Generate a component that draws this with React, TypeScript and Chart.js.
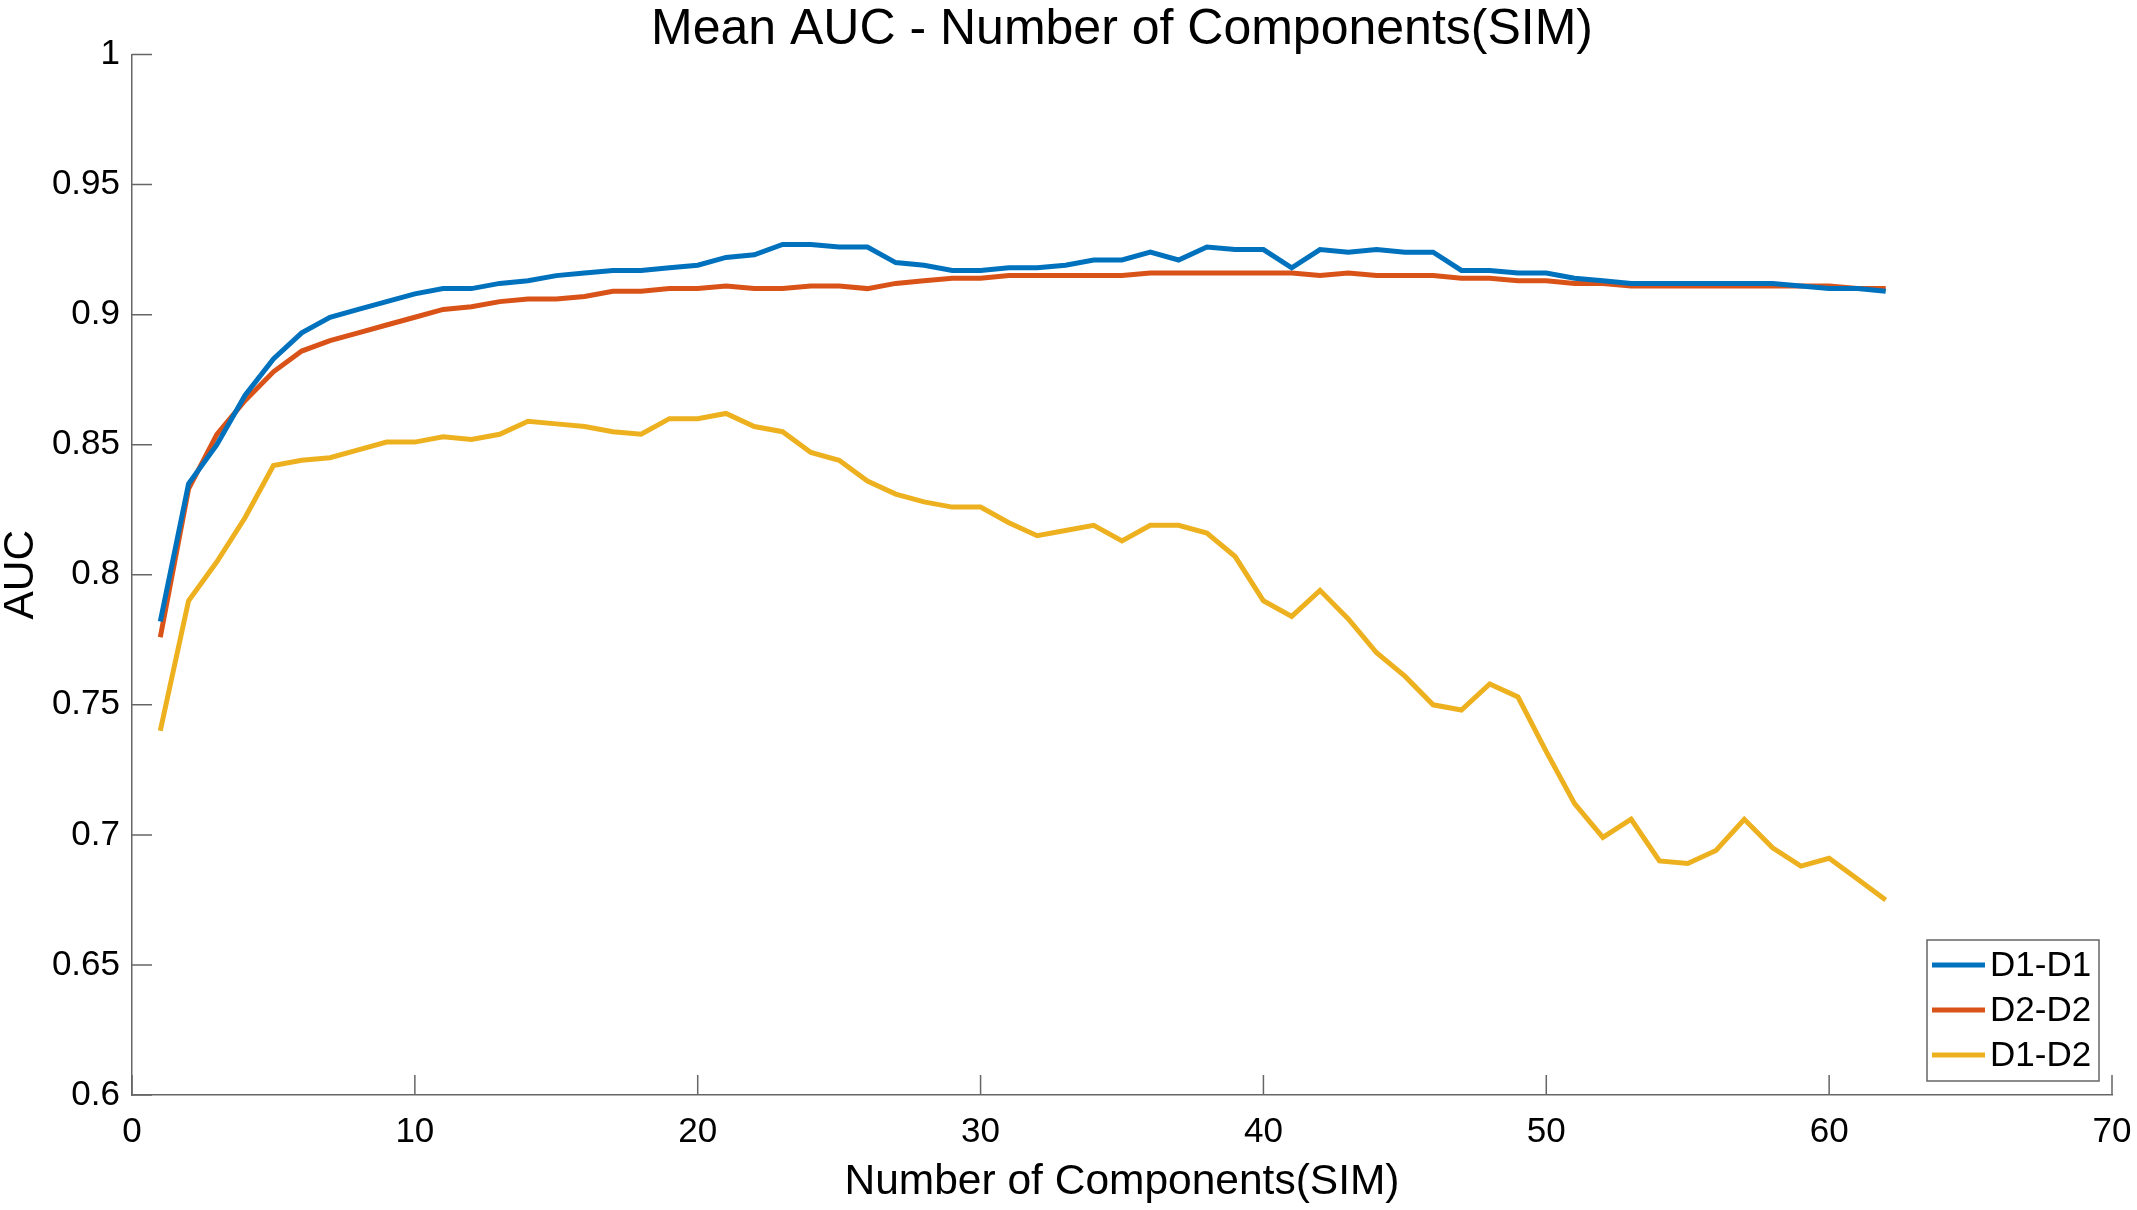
import { useEffect, useRef } from "react";
import { Chart, registerables } from "chart.js";

Chart.register(...registerables);

const components = [
  1, 2, 3, 4, 5, 6, 7, 8, 9, 10, 11, 12, 13, 14, 15, 16, 17, 18, 19, 20, 21,
  22, 23, 24, 25, 26, 27, 28, 29, 30, 31, 32, 33, 34, 35, 36, 37, 38, 39, 40,
  41, 42, 43, 44, 45, 46, 47, 48, 49, 50, 51, 52, 53, 54, 55, 56, 57, 58, 59,
  60, 61, 62,
];

const d1d1 = [
  0.782, 0.835, 0.85, 0.869, 0.883, 0.893, 0.899, 0.902, 0.905, 0.908, 0.91,
  0.91, 0.912, 0.913, 0.915, 0.916, 0.917, 0.917, 0.918, 0.919, 0.922, 0.923,
  0.927, 0.927, 0.926, 0.926, 0.92, 0.919, 0.917, 0.917, 0.918, 0.918, 0.919,
  0.921, 0.921, 0.924, 0.921, 0.926, 0.925, 0.925, 0.918, 0.925, 0.924, 0.925,
  0.924, 0.924, 0.917, 0.917, 0.916, 0.916, 0.914, 0.913, 0.912, 0.912, 0.912,
  0.912, 0.912, 0.912, 0.911, 0.91, 0.91, 0.909,
];

const d2d2 = [
  0.776, 0.833, 0.854, 0.867, 0.878, 0.886, 0.89, 0.893, 0.896, 0.899, 0.902,
  0.903, 0.905, 0.906, 0.906, 0.907, 0.909, 0.909, 0.91, 0.91, 0.911, 0.91,
  0.91, 0.911, 0.911, 0.91, 0.912, 0.913, 0.914, 0.914, 0.915, 0.915, 0.915,
  0.915, 0.915, 0.916, 0.916, 0.916, 0.916, 0.916, 0.916, 0.915, 0.916, 0.915,
  0.915, 0.915, 0.914, 0.914, 0.913, 0.913, 0.912, 0.912, 0.911, 0.911, 0.911,
  0.911, 0.911, 0.911, 0.911, 0.911, 0.91, 0.91,
];

const d1d2 = [
  0.74, 0.79, 0.805, 0.822, 0.842, 0.844, 0.845, 0.848, 0.851, 0.851, 0.853,
  0.852, 0.854, 0.859, 0.858, 0.857, 0.855, 0.854, 0.86, 0.86, 0.862, 0.857,
  0.855, 0.847, 0.844, 0.836, 0.831, 0.828, 0.826, 0.826, 0.82, 0.815, 0.817,
  0.819, 0.813, 0.819, 0.819, 0.816, 0.807, 0.79, 0.784, 0.794, 0.783, 0.77,
  0.761, 0.75, 0.748, 0.758, 0.753, 0.732, 0.712, 0.699, 0.706, 0.69, 0.689,
  0.694, 0.706, 0.695, 0.688, 0.691, 0.683, 0.675,
];

const seriesLabels = ["D1-D1", "D2-D2", "D1-D2"];
const seriesColors = ["#0072BD", "#D95319", "#EDB120"];

const xTicks = [0, 10, 20, 30, 40, 50, 60, 70];
const yTicks = [0.6, 0.65, 0.7, 0.75, 0.8, 0.85, 0.9, 0.95, 1];
const yTickLabels = ["0.6", "0.65", "0.7", "0.75", "0.8", "0.85", "0.9", "0.95", "1"];

const FONT = '"Liberation Sans", Arial, Helvetica, sans-serif';
const AXIS_COLOR = "#666666";

// MATLAB style: tick marks point into the plot
const innerTicks = {
  id: "innerTicks",
  afterDraw(chart: any) {
    const { ctx, chartArea, scales } = chart;
    ctx.save();
    ctx.strokeStyle = AXIS_COLOR;
    ctx.lineWidth = 1.5;
    ctx.beginPath();
    for (const t of scales.x.ticks) {
      const px = scales.x.getPixelForValue(t.value);
      ctx.moveTo(px, chartArea.bottom);
      ctx.lineTo(px, chartArea.bottom - 20);
    }
    for (const t of scales.y.ticks) {
      const py = scales.y.getPixelForValue(t.value);
      ctx.moveTo(chartArea.left, py);
      ctx.lineTo(chartArea.left + 20, py);
    }
    ctx.stroke();
    ctx.restore();
  },
};

// boxed legend in the lower right corner of the axes
const boxLegend = {
  id: "boxLegend",
  afterDraw(chart: any) {
    const { ctx, chartArea } = chart;
    const w = 172;
    const h = 141;
    const x = chartArea.right - 13 - w;
    const y = chartArea.bottom - 14 - h;
    ctx.save();
    ctx.fillStyle = "#ffffff";
    ctx.fillRect(x, y, w, h);
    ctx.strokeStyle = AXIS_COLOR;
    ctx.lineWidth = 1.5;
    ctx.strokeRect(x, y, w, h);
    ctx.font = `35px ${FONT}`;
    ctx.textBaseline = "middle";
    ctx.textAlign = "left";
    chart.data.datasets.forEach((ds: any, i: number) => {
      const cy = y + 25 + i * 45;
      ctx.strokeStyle = ds.borderColor;
      ctx.lineWidth = 5;
      ctx.beginPath();
      ctx.moveTo(x + 5, cy);
      ctx.lineTo(x + 58, cy);
      ctx.stroke();
      ctx.fillStyle = "#000000";
      ctx.fillText(ds.label, x + 63, cy + 1);
    });
    ctx.restore();
  },
};

export default function App() {
  const canvasRef = useRef<HTMLCanvasElement>(null);
  const chartRef = useRef<Chart | null>(null);

  useEffect(() => {
    if (!canvasRef.current) return;
    if (chartRef.current) chartRef.current.destroy();

    const series = [d1d1, d2d2, d1d2];

    chartRef.current = new Chart(canvasRef.current, {
      type: "line",
      data: {
        datasets: series.map((values, i) => ({
          label: seriesLabels[i],
          data: components.map((c, j) => ({ x: c, y: values[j] })),
          borderColor: seriesColors[i],
          backgroundColor: seriesColors[i],
          borderWidth: 5,
          pointRadius: 0,
          tension: 0,
          fill: false,
        })),
      },
      options: {
        animation: false,
        responsive: false,
        devicePixelRatio: 1,
        layout: { padding: { left: 0, right: 25, top: 0, bottom: 0 } },
        plugins: {
          legend: { display: false },
          tooltip: { enabled: false },
          title: {
            display: true,
            text: "Mean AUC - Number of Components(SIM)",
            color: "#000000",
            fullSize: false,
            font: { family: FONT, size: 50, weight: "normal", lineHeight: 0.9 },
            padding: { top: 7.5, bottom: 2 },
          },
        },
        scales: {
          x: {
            type: "linear",
            min: 0,
            max: 70,
            afterBuildTicks: (scale: any) => {
              scale.ticks = xTicks.map((v) => ({ value: v }));
            },
            afterFit: (scale: any) => {
              scale.height = 115;
              // end labels fit inside the page margins already
              scale.paddingLeft = 0;
              scale.paddingRight = 0;
            },
            grid: { display: false, drawTicks: false },
            border: { display: true, color: AXIS_COLOR, width: 1.5 },
            ticks: {
              color: "#000000",
              padding: 16,
              maxRotation: 0,
              font: { family: FONT, size: 35 },
              callback: (v: any) => String(v),
            },
            title: {
              display: true,
              text: "Number of Components(SIM)",
              color: "#000000",
              font: { family: FONT, size: 42.5, lineHeight: 1 },
              padding: { top: 0, bottom: 6 },
            },
          },
          y: {
            type: "linear",
            min: 0.6,
            max: 1,
            afterBuildTicks: (scale: any) => {
              scale.ticks = yTicks.map((v) => ({ value: v }));
            },
            afterFit: (scale: any) => {
              scale.width = 132;
            },
            grid: { display: false, drawTicks: false },
            border: { display: true, color: AXIS_COLOR, width: 1.5 },
            ticks: {
              color: "#000000",
              padding: 12,
              font: { family: FONT, size: 35 },
              callback: (v: any) => {
                const idx = yTicks.findIndex((t) => Math.abs(t - Number(v)) < 1e-9);
                return idx >= 0 ? yTickLabels[idx] : "";
              },
            },
            title: {
              display: true,
              text: "AUC",
              color: "#000000",
              font: { family: FONT, size: 42.5, lineHeight: 1 },
              padding: { top: 0, bottom: 0 },
            },
          },
        },
      },
      plugins: [innerTicks, boxLegend],
    });

    return () => {
      if (chartRef.current) {
        chartRef.current.destroy();
        chartRef.current = null;
      }
    };
  }, []);

  return (
    <div style={{ position: "fixed", left: 0, top: 0, width: 2137, height: 1210, background: "#ffffff" }}>
      <canvas ref={canvasRef} width={2137} height={1210} style={{ display: "block" }} />
    </div>
  );
}
